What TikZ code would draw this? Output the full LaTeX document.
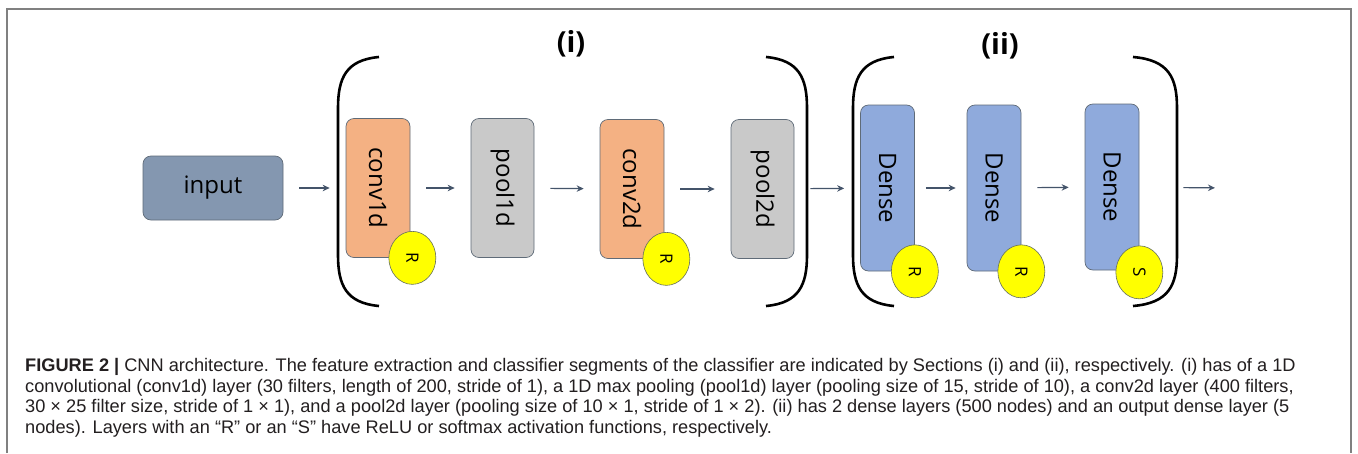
\documentclass[tikz,border=0pt]{standalone}
\usepackage{fontspec}
\usepackage{graphicx}
\setmainfont{Open Sans}
\newfontfamily\capfont{Liberation Sans}
\usetikzlibrary{shapes.geometric,arrows.meta}

\definecolor{inputblue}{HTML}{8497B0}
\definecolor{convorange}{HTML}{F4B183}
\definecolor{poolgray}{HTML}{C9C9C9}
\definecolor{denseblue}{HTML}{8FAADC}
\definecolor{actyellow}{HTML}{FFFF00}
\definecolor{boxline}{HTML}{5F6B78}
\definecolor{arrowslate}{HTML}{44546A}
\definecolor{captext}{HTML}{231F20}

\begin{document}
\begin{tikzpicture}[x=1pt,y=-1pt,
  box/.style={draw=boxline,line width=0.7pt,rounded corners=8pt,inner sep=0pt,font=\fontsize{24}{24}\selectfont},
  layerbox/.style={box,minimum width=64pt,minimum height=139pt},
  densebox/.style={box,fill=denseblue,minimum width=54pt,minimum height=166pt},
  act/.style={ellipse,draw=boxline!80!olive,line width=0.6pt,fill=actyellow,minimum width=47pt,minimum height=53pt,inner sep=0pt,font=\fontsize{17}{17}\selectfont},
  link/.style={-{Stealth[length=7pt,width=6.5pt]},arrowslate,line width=1.2pt,shorten <=16pt,shorten >=16pt},
  brk/.style={line width=2.6pt,black},
  part/.style={font=\fontsize{29}{29}\selectfont\bfseries}]
\useasboundingbox (0,0) rectangle (1358,453);
\fill[white] (0,0) rectangle (1358,453);
\draw[gray,line width=1.2pt] (7,453) -- (7,9) -- (1351,9) -- (1351,453);

% layers
\node[box,fill=inputblue,minimum width=140pt,minimum height=64pt] (input) at (213,188) {input};
\node[layerbox,fill=convorange] (conv1d) at (378,188) {\rotatebox{-90}{conv1d}};
\node[layerbox,fill=poolgray,minimum width=63pt] (pool1d) at (502.5,188) {\rotatebox{-90}{pool1d}};
\node[layerbox,fill=convorange] (conv2d) at (632,189) {\rotatebox{-90}{conv2d}};
\node[layerbox,fill=poolgray,minimum width=63pt] (pool2d) at (762.5,189) {\rotatebox{-90}{pool2d}};
\node[densebox] (dense1) at (887.5,188) {\rotatebox{-90}{Dense}};
\node[densebox] (dense2) at (994,188) {\rotatebox{-90}{Dense}};
\node[densebox] (dense3) at (1112,187) {\rotatebox{-90}{Dense}};
\coordinate (out) at (1231,188);

% activations
\node[act] (relu1) at ([xshift=2pt]conv1d.south east) {\rotatebox{-90}{R}};
\node[act] (relu2) at ([xshift=2pt]conv2d.south east) {\rotatebox{-90}{R}};
\node[act] (relu3) at (dense1.south east) {\rotatebox{-90}{R}};
\node[act] (relu4) at (dense2.south east) {\rotatebox{-90}{R}};
\node[act] (soft) at ([yshift=-2pt]dense3.south east) {\rotatebox{-90}{S}};

% arrows
\draw[link] (input) -- (conv1d);
\draw[link] (conv1d) -- (pool1d);
\draw[link] (pool1d) -- (conv2d);
\draw[link] (conv2d) -- (pool2d);
\draw[link] (pool2d) -- (dense1);
\draw[link,shorten <=11pt,shorten >=11pt] (dense1) -- (dense2);
\draw[link] (dense2) -- (dense3);
\draw[link,shorten <=44pt] (dense3) -- (out);

% brackets
\draw[brk] (379,57) .. controls (346,60) and (338,78) .. (338,108) -- (338,255) .. controls (338,285) and (346,303) .. (379,306);
\draw[brk] (766,57) .. controls (799,60) and (807,78) .. (807,108) -- (807,255) .. controls (807,285) and (799,303) .. (766,306);
\draw[brk] (894,57) .. controls (861,60) and (853,78) .. (853,108) -- (853,255) .. controls (853,285) and (861,303) .. (894,306);
\draw[brk] (1133,57) .. controls (1169,60) and (1177,78) .. (1177,108) -- (1177,255) .. controls (1177,285) and (1169,303) .. (1133,306);
\node[part] (feat) at (571,44) {(i)};
\node[part] (clf) at (1000,46) {(ii)};

% caption
\node[anchor=north west,align=left,inner sep=0pt,text=captext,font=\capfont\fontsize{18.2}{20.7}\selectfont] (caption) at (25,358) {%
\textbf{FIGURE 2 |} CNN architecture. The feature extraction and classifier segments of the classifier are indicated by Sections (i) and (ii), respectively. (i) has of a 1D\\
convolutional (conv1d) layer (30 filters, length of 200, stride of 1), a 1D max pooling (pool1d) layer (pooling size of 15, stride of 10), a conv2d layer (400 filters,\\
30 × 25 filter size, stride of 1 × 1), and a pool2d layer (pooling size of 10 × 1, stride of 1 × 2). (ii) has 2 dense layers (500 nodes) and an output dense layer (5\\
nodes). Layers with an “R” or an “S” have ReLU or softmax activation functions, respectively.};
\end{tikzpicture}
\end{document}
